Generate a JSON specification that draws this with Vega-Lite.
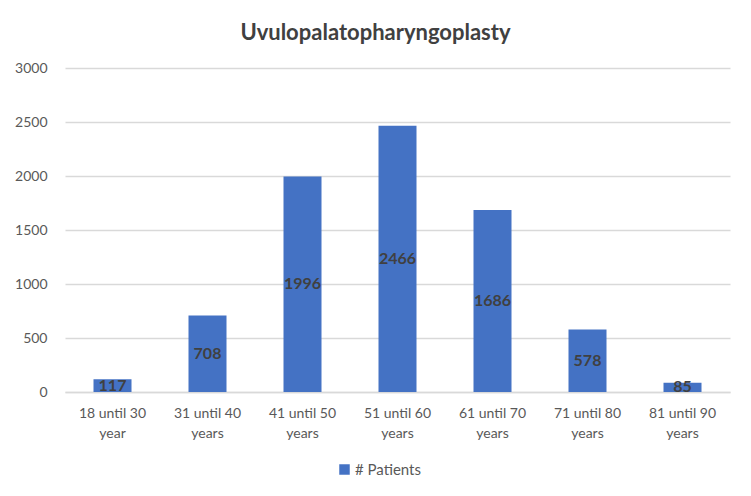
{
  "$schema": "https://vega.github.io/schema/vega-lite/v6.json",
  "width": 665,
  "height": 324,
  "autosize": {"type": "none"},
  "padding": {"left": 65, "top": 68, "right": 21, "bottom": 104},
  "background": "white",
  "title": {
    "text": "Uvulopalatopharyngoplasty",
    "font": "Lato",
    "fontSize": 22,
    "fontWeight": "bold",
    "color": "#404040",
    "anchor": "middle",
    "dx": -22,
    "offset": 16
  },
  "data": {
    "values": [
      {"group": "18 until 30 year", "series": "# Patients", "n": 117},
      {"group": "31 until 40 years", "series": "# Patients", "n": 708},
      {"group": "41 until 50 years", "series": "# Patients", "n": 1996},
      {"group": "51 until 60 years", "series": "# Patients", "n": 2466},
      {"group": "61 until 70 years", "series": "# Patients", "n": 1686},
      {"group": "71 until 80 years", "series": "# Patients", "n": 578},
      {"group": "81 until 90 years", "series": "# Patients", "n": 85}
    ]
  },
  "encoding": {
    "x": {
      "field": "group",
      "type": "nominal",
      "sort": null,
      "scale": {"paddingInner": 0.6, "paddingOuter": 0.3},
      "axis": {
        "title": null,
        "labelAngle": 0,
        "labelExpr": "[slice(datum.label,0,11), slice(datum.label,12)]",
        "labelFont": "Lato",
        "labelFontSize": 14,
        "labelColor": "#595959",
        "labelLineHeight": 20,
        "labelPadding": 14,
        "ticks": false,
        "domainColor": "#D9D9D9",
        "domainWidth": 1.5,
        "grid": false
      }
    }
  },
  "layer": [
    {
      "mark": {"type": "bar", "color": "#4472C4"},
      "encoding": {
        "y": {
          "field": "n",
          "type": "quantitative",
          "scale": {"domain": [0, 3000]},
          "axis": {
            "title": null,
            "values": [0, 500, 1000, 1500, 2000, 2500, 3000],
            "format": "d",
            "labelFont": "Lato",
            "labelFontSize": 14,
            "labelColor": "#595959",
            "labelPadding": 18,
            "ticks": false,
            "domain": false,
            "gridColor": "#D9D9D9",
            "gridWidth": 1.5
          }
        },
        "color": {
          "field": "series",
          "type": "nominal",
          "scale": {"range": ["#4472C4"]},
          "legend": {
            "title": null,
            "orient": "none",
            "legendX": 272,
            "legendY": 394,
            "direction": "horizontal",
            "symbolType": "square",
            "symbolSize": 110,
            "symbolStrokeWidth": 0,
            "labelFont": "Lato",
            "labelFontSize": 15,
            "labelColor": "#595959",
            "labelOffset": 3
          }
        }
      }
    },
    {
      "transform": [{"calculate": "datum.n / 2", "as": "mid"}],
      "mark": {
        "type": "text",
        "font": "Lato",
        "fontSize": 16,
        "fontWeight": "bold",
        "color": "#404040",
        "baseline": "middle",
        "align": "center"
      },
      "encoding": {
        "y": {"field": "mid", "type": "quantitative"},
        "text": {"field": "n", "type": "quantitative"}
      }
    }
  ],
  "config": {"view": {"stroke": null}}
}
